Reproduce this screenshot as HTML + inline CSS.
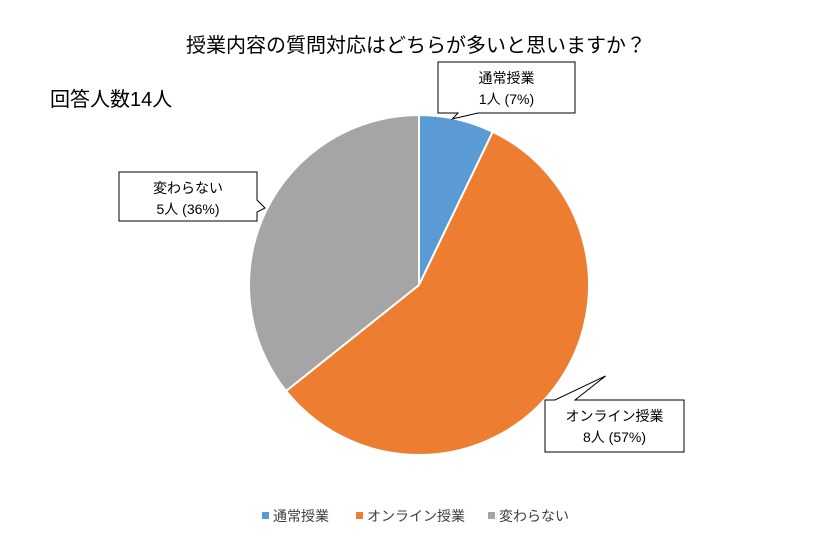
<!DOCTYPE html>
<html><head><meta charset="utf-8">
<style>
body{margin:0;background:#fff;}
svg{display:block;font-family:"Liberation Sans","Noto Sans CJK JP",sans-serif;}
</style></head>
<body>
<svg id="chart" width="832" height="556" viewBox="0 0 832 556">
<rect width="832" height="556" fill="#fff"/>
<text x="416" y="52" text-anchor="middle" font-size="20" fill="#000">授業内容の質問対応はどちらが多いと思いますか？</text>
<text x="50" y="106" font-size="20" fill="#000">回答人数14人</text>
<g id="slices"></g>
<g id="labels"></g>
<g id="legend"></g>
</svg>
<script>
const categories = ["通常授業", "オンライン授業", "変わらない"];
const values = [1, 8, 5];
const colors = ["#5b9bd5", "#ed7d31", "#a5a5a5"];
const NS = "http://www.w3.org/2000/svg";
const cx = 419, cy = 285, r = 170;
const total = values.reduce((a, b) => a + b, 0);
function pt(a, rr) { return [cx + rr * Math.sin(a), cy - rr * Math.cos(a)]; }
const sg = document.getElementById("slices");
let a0 = 0;
const mids = [];
values.forEach((v, i) => {
  const a1 = a0 + v / total * 2 * Math.PI;
  const p0 = pt(a0, r), p1 = pt(a1, r);
  const large = (a1 - a0) > Math.PI ? 1 : 0;
  const path = document.createElementNS(NS, "path");
  path.setAttribute("d", `M${cx},${cy} L${p0[0]},${p0[1]} A${r},${r} 0 ${large} 1 ${p1[0]},${p1[1]} Z`);
  path.setAttribute("fill", colors[i]);
  path.setAttribute("stroke", "#fff");
  path.setAttribute("stroke-width", "2");
  
  
  sg.appendChild(path);
  mids.push((a0 + a1) / 2);
  a0 = a1;
});
// callout boxes
const boxes = [
  {x: 438, y: 62, w: 137, h: 51, ax: 0.5},
  {x: 545, y: 400, w: 139, h: 52, ax: 0},
  {x: 119, y: 172, w: 138, h: 49, ax: 0}
];
const lg = document.getElementById("labels");
values.forEach((v, i) => {
  const b = boxes[i];
  const tip = pt(mids[i], r * 0.99);
  const g = document.createElementNS(NS, "g");
  
  
  let d;
  if (i === 0) {
    d = `M${b.x},${b.y} H${b.x+b.w} V${b.y+b.h} H${b.x+40} L${tip[0]-4},${tip[1]-2} L${b.x+20},${b.y+b.h} H${b.x} Z`;
  } else if (i === 1) {
    d = `M${b.x},${b.y} V${b.y+b.h} H${b.x+b.w} V${b.y} H${b.x+30} L${tip[0]+55},${tip[1]-14} L${b.x+10},${b.y} Z`;
  } else {
    d = `M${b.x},${b.y} H${b.x+b.w} V${b.y+28} L${b.x+b.w+8},${b.y+36} L${b.x+b.w},${b.y+40} V${b.y+b.h} H${b.x} Z`;
  }
  const p = document.createElementNS(NS, "path");
  p.setAttribute("d", d);
  p.setAttribute("fill", "#fff");
  p.setAttribute("stroke", "#000");
  p.setAttribute("stroke-width", "1");
  g.appendChild(p);
  const t1 = document.createElementNS(NS, "text");
  t1.setAttribute("x", b.x + b.w / 2);
  t1.setAttribute("y", b.y + 21);
  t1.setAttribute("text-anchor", "middle");
  t1.setAttribute("font-size", "14");
  t1.textContent = categories[i];
  g.appendChild(t1);
  const t2 = document.createElementNS(NS, "text");
  t2.setAttribute("x", b.x + b.w / 2);
  t2.setAttribute("y", b.y + 42);
  t2.setAttribute("text-anchor", "middle");
  t2.setAttribute("font-size", "14");
  t2.textContent = v + "人 (" + Math.round(v / total * 100) + "%)";
  g.appendChild(t2);
  lg.appendChild(g);
});
// legend
const leg = document.getElementById("legend");
const legX = [262, 356, 488];
categories.forEach((c, i) => {
  const g = document.createElementNS(NS, "g");
  
  
  const rc = document.createElementNS(NS, "rect");
  rc.setAttribute("x", legX[i]); rc.setAttribute("y", 512);
  rc.setAttribute("width", 7); rc.setAttribute("height", 7);
  rc.setAttribute("fill", colors[i]);
  g.appendChild(rc);
  const t = document.createElementNS(NS, "text");
  t.setAttribute("x", legX[i] + 11); t.setAttribute("y", 521);
  t.setAttribute("font-size", "14"); t.setAttribute("fill", "#404040");
  t.textContent = c;
  g.appendChild(t);
  leg.appendChild(g);
});
</script>
</body></html>
